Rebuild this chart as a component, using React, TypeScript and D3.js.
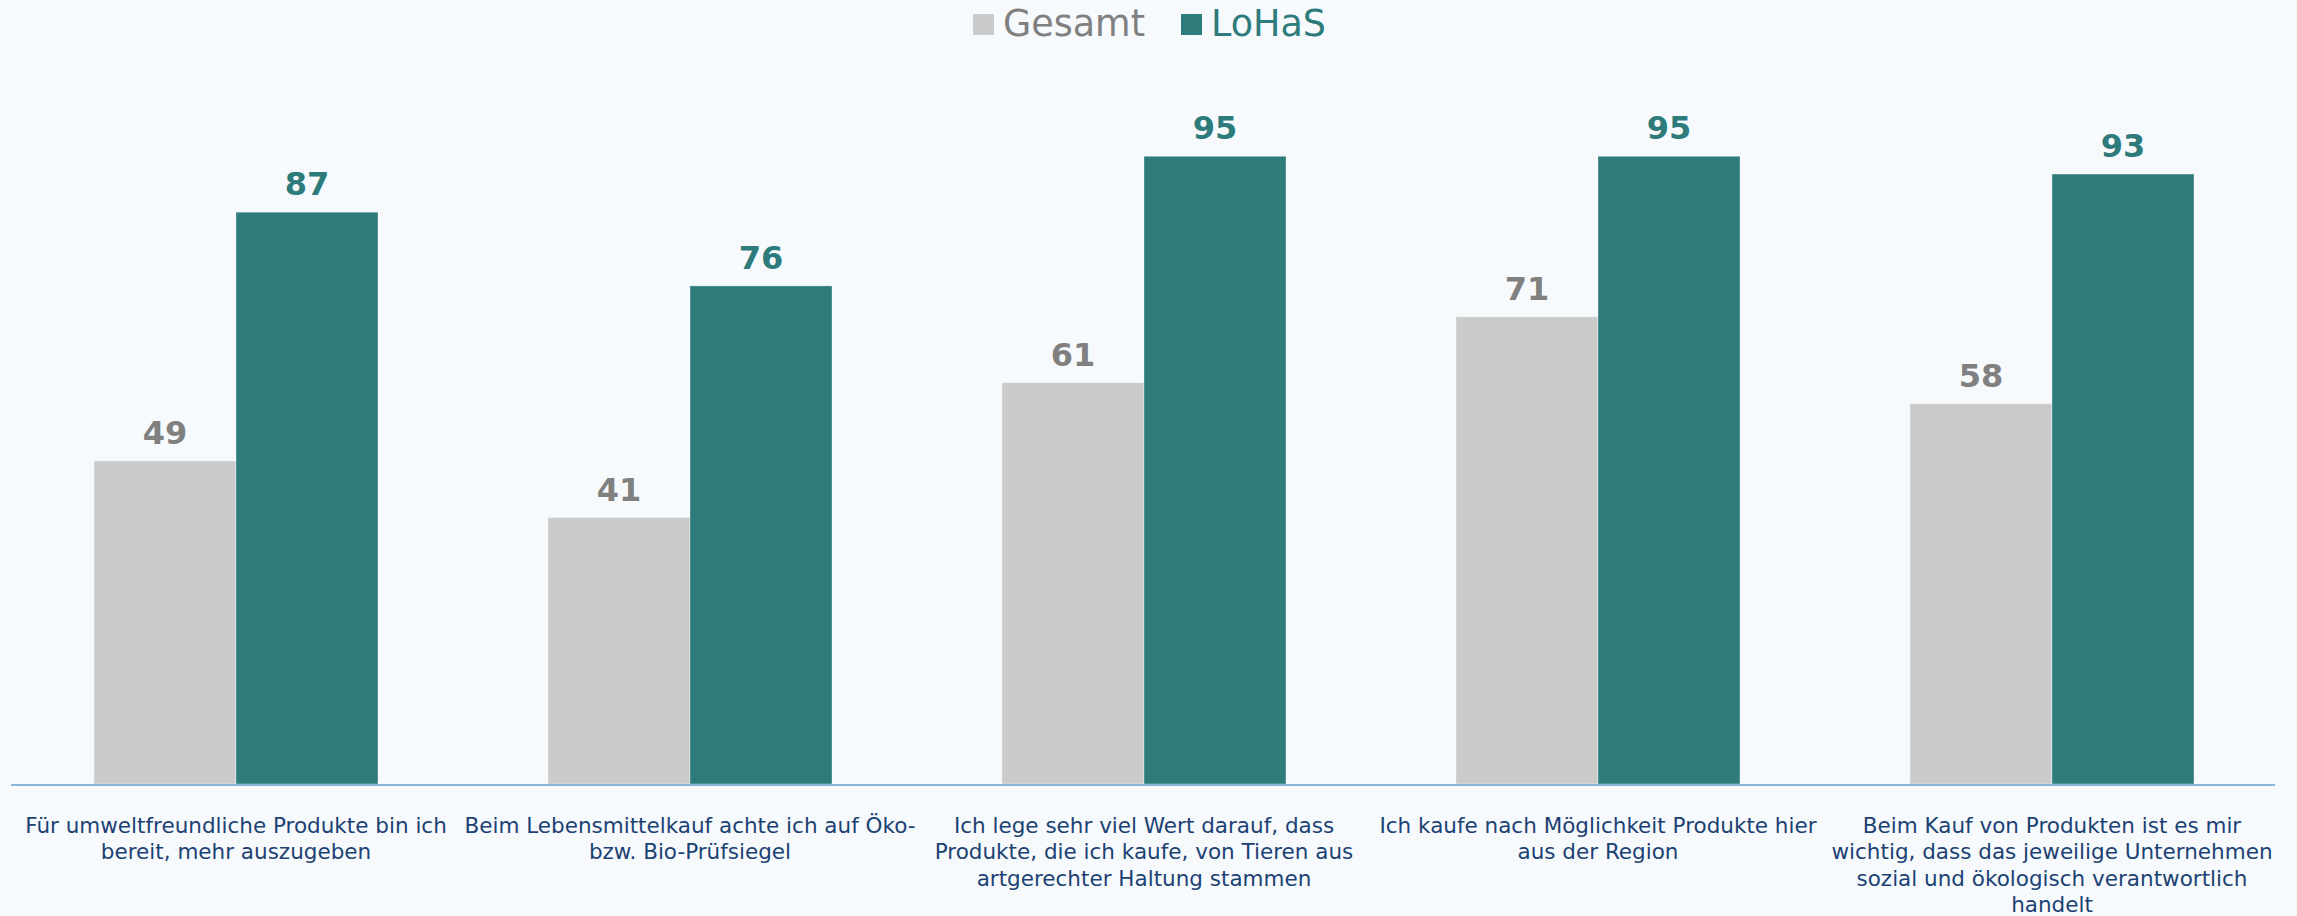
import React, { useEffect, useRef } from "react";
import * as d3 from "d3";

const categories: string[][] = [
  ["Für umweltfreundliche Produkte bin ich", "bereit, mehr auszugeben"],
  ["Beim Lebensmittelkauf achte ich auf Öko-", "bzw. Bio-Prüfsiegel"],
  ["Ich lege sehr viel Wert darauf, dass", "Produkte, die ich kaufe, von Tieren aus", "artgerechter Haltung stammen"],
  ["Ich kaufe nach Möglichkeit Produkte hier", "aus der Region"],
  ["Beim Kauf von Produkten ist es mir", "wichtig, dass das jeweilige Unternehmen", "sozial und ökologisch verantwortlich", "handelt"],
];
const seriesNames = ["Gesamt", "LoHaS"];
const gesamt = [49.1, 40.5, 61.0, 71.0, 57.8];
const lohas = [86.9, 75.7, 95.4, 95.4, 92.7];

const W = 2297;
const H = 916;
const FONT = "'DejaVu Sans', Verdana, sans-serif";
const barColors = ["#cbcbcb", "#2e7b7b"];
const labelColors = ["#808080", "#2e7b7b"];

export default function App() {
  const ref = useRef<SVGSVGElement>(null);
  useEffect(() => {
    document.body.style.margin = "0";
    document.body.style.overflow = "hidden";
    const svg = d3.select(ref.current);
    svg.selectAll("*").remove();
    svg.append("rect").attr("width", W).attr("height", H).attr("fill", "#f6fafd");

    const baseY = 784;
    const x0 = d3.scaleBand<number>().domain(d3.range(categories.length)).range([9, 2279]).paddingInner(0.3744).paddingOuter(0.1872);
    const x1 = d3.scaleBand<number>().domain([0, 1]).range([0, x0.bandwidth()]);
    const y = d3.scaleLinear().domain([0, 100]).range([baseY, baseY - 658]);
    const series = [gesamt, lohas];

    const g = svg.append("g");
    series.forEach((vals, si) => {
      g.selectAll(null)
        .data(vals)
        .enter()
        .append("rect")
        .attr("x", (_, i) => (x0(i) as number) + (x1(si) as number))
        .attr("y", (d) => y(d))
        .attr("width", x1.bandwidth())
        .attr("height", (d) => baseY - y(d))
        .attr("fill", barColors[si])
        .attr("stroke", "#ffffff")
        .attr("stroke-opacity", 0.35)
        .attr("stroke-width", 1);
      g.selectAll(null)
        .data(vals)
        .enter()
        .append("text")
        .attr("x", (_, i) => (x0(i) as number) + (x1(si) as number) + x1.bandwidth() / 2)
        .attr("y", (d) => y(d) - 17)
        .attr("text-anchor", "middle")
        .attr("font-family", FONT)
        .attr("font-weight", "bold")
        .attr("font-size", 32)
        .attr("fill", labelColors[si])
        .text((d) => String(Math.round(d)));
    });

    // baseline
    svg.append("line").attr("x1", 11).attr("x2", 2275).attr("y1", baseY + 1).attr("y2", baseY + 1)
      .attr("stroke", "#86b6d8").attr("stroke-width", 2);

    // category labels
    categories.forEach((lines, i) => {
      const cx = (x0(i) as number) + x0.bandwidth() / 2;
      const t = svg.append("text").attr("text-anchor", "middle").attr("font-family", FONT)
        .attr("font-size", 21.5).attr("fill", "#1c4173");
      lines.forEach((ln, k) => {
        t.append("tspan").attr("x", cx).attr("y", 833 + k * 26.3).text(ln);
      });
    });

    // legend
    const legX = [973, 1181];
    seriesNames.forEach((name, si) => {
      svg.append("rect").attr("x", legX[si]).attr("y", 14).attr("width", 21).attr("height", 21).attr("fill", barColors[si]);
      svg.append("text").attr("x", legX[si] + 30).attr("y", 36).attr("font-family", FONT)
        .attr("font-size", 36.5).attr("fill", labelColors[si]).text(name);
    });
  }, []);
  return <svg ref={ref} width={W} height={H} style={{ display: "block" }} />;
}
